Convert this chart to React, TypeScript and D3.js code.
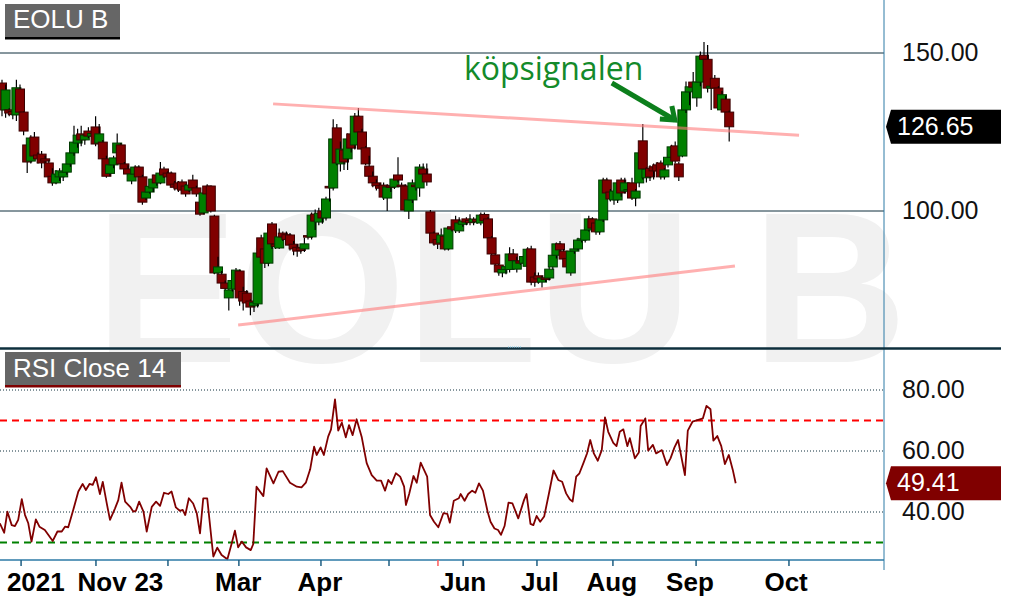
import * as d3 from "d3";

const W = 1021;
const H = 603;
const AXIS_X = 884;
const FONT = "'Liberation Sans', Arial, sans-serif";

// [open, high, low, close] per trading day
const candles: [number, number, number, number][] = [
  [140.5, 141.5, 130, 132], [132, 140, 129.5, 138.3], [132, 132.5, 130, 131], [131.5, 133, 129, 130.5],
  [130.4, 141.5, 128.5, 139], [138.6, 140, 130, 131.3], [131.3, 131.5, 124, 125.3], [120.9, 122, 112, 115.5],
  [115.8, 124, 115, 123.1], [123.4, 125, 116.5, 117.4], [117.7, 118.5, 115, 116.5], [118, 119, 113.5, 115.2],
  [116.5, 117.5, 114, 115.8], [115.2, 116, 110, 110.8], [111, 113.5, 108, 108.9], [108.9, 113, 108.5, 111.7],
  [110.8, 113.5, 109.5, 112.7], [110.8, 114, 109.5, 112.3], [112.3, 115.5, 111.5, 114.9], [114.9, 119, 114, 118.4],
  [118.4, 127, 117.5, 121.8], [121.5, 126, 120, 124], [124.4, 127, 120.5, 122.5], [122.5, 125, 121, 124],
  [125.3, 126.5, 123, 123.7], [123.7, 126, 123, 124.5], [126.6, 130, 120.5, 121.2], [121.5, 127.5, 120, 124.4],
  [121.8, 122.5, 116, 116.5], [116.5, 117.5, 110.5, 111], [111.9, 115.5, 111, 114.6], [114.6, 117.5, 113.5, 116.8],
  [118.4, 124.5, 117.5, 121.5], [120.9, 121.5, 114, 114.9], [114.9, 115.5, 112.5, 113.3], [113.3, 114.5, 111, 111.7],
  [109.5, 112, 108.5, 111.7], [111.7, 114.5, 111, 113.9], [113.9, 114.5, 110, 110.8], [110.8, 111.5, 102, 102.8],
  [104.1, 107, 103.5, 106], [106, 108.5, 105.5, 107.8], [107.3, 111.5, 106, 110.1], [111.4, 112, 108, 108.9],
  [108.9, 115.5, 108.5, 112], [113.3, 114, 110.5, 111.4], [112, 112.5, 110, 110.8], [112, 112.5, 107.5, 108.2],
  [108.5, 109.5, 106.5, 107.5], [108.9, 109.5, 106, 107], [109.2, 110, 105.5, 106.6], [107.9, 108.5, 104.5, 105.4],
  [106.6, 109, 106, 108.2], [109.8, 111.5, 106.5, 107.3], [107.3, 108, 104.5, 105.4], [102.8, 103.5, 98.5, 99],
  [99.4, 106.5, 99, 105.7], [107.9, 108.5, 105, 105.4], [107.9, 108, 99.5, 100], [98.4, 98.8, 80, 80.4],
  [80.4, 85.5, 79.8, 82.3], [80, 81, 76.5, 77.2], [77.2, 78, 74.5, 75.5], [72.5, 76, 68.5, 75],
  [75.3, 79, 74.5, 78], [75.3, 82, 74.5, 81.3], [81, 81.5, 70, 72.5], [74.5, 76, 68.5, 71.5],
  [74, 75, 70, 70.9], [71.5, 72, 67, 69.6], [70, 72, 68, 71], [70.6, 87.5, 69.5, 86.7],
  [91.5, 92.5, 84, 85.4], [88, 89, 82, 83.5], [83.5, 95.5, 82.5, 93], [95.9, 96.5, 88, 89.6],
  [89.5, 91, 88, 88.8], [88.3, 94.5, 88, 91.8], [93, 93.5, 90.5, 91.8], [92.5, 93.5, 90, 91],
  [92.4, 93, 87.5, 89.2], [89.5, 90.5, 86, 88], [88.5, 89.5, 85.5, 87.3], [88.3, 89.5, 86.5, 87.5],
  [88, 91.5, 87, 89.6], [92.2, 93, 91, 91.8], [91.8, 99.5, 91, 98.7], [99, 100.5, 94, 96.8],
  [96.5, 101, 95.5, 99.3], [100, 101, 96, 97.8], [97.8, 104.5, 97, 103.8], [107.8, 109.5, 103, 107.3],
  [107.3, 129, 106.5, 122.8], [126.3, 127.5, 114.5, 115.2], [114.9, 122, 112.5, 119.6], [119.3, 121, 113, 115.5],
  [116.5, 124.5, 113, 122.8], [124.4, 125.5, 118.5, 119.9], [120.9, 131, 119.5, 130], [130, 132.6, 124, 125],
  [125, 126, 118.5, 119.6], [120, 120.5, 114.5, 114.9], [114.2, 117.5, 110, 111], [111, 112.5, 107.5, 108.9],
  [108.9, 110, 106.5, 108], [108, 108.8, 106.5, 107.2], [108.2, 109, 103.5, 104.4], [104.1, 108.5, 100, 107.6],
  [108, 109, 106, 107.5], [107.6, 111, 107, 110.1], [111.4, 117, 109, 109.8], [108.2, 109, 106.5, 107.8],
  [107.9, 108.5, 100, 100.3], [100, 104.5, 97.5, 103.5], [103.5, 110, 102.5, 108.9], [108.2, 108.8, 106.5, 107.7],
  [107.3, 114.8, 104.5, 113.9], [113.3, 115, 110.5, 111.7], [111.7, 115, 108, 109.2], [99.7, 100.3, 92.5, 93],
  [93, 93.5, 89, 89.9], [91, 92.5, 88, 89.5], [89.9, 94.5, 88.5, 92.4], [92, 93, 87.5, 88],
  [88, 95, 87.5, 94.6], [95, 96, 93.5, 94.3], [97.2, 98.5, 93, 94], [93.7, 98, 93, 96.2],
  [95.8, 97.5, 95, 96.8], [97.5, 98, 95.5, 96.5], [97, 99, 95.5, 96.3], [96.5, 98, 95.5, 97.4],
  [97.4, 98.5, 96, 96.6], [96.2, 99.5, 95.5, 98.7], [98.9, 99.5, 96, 96.9], [97.5, 98, 91, 91.5],
  [91.5, 92, 85.5, 86.4], [86.1, 86.5, 82.5, 83.2], [82.9, 83.2, 79.5, 80.7], [80.4, 82.5, 79, 81.5],
  [81.5, 83, 80, 82.4], [81.5, 88.5, 80.5, 86.4], [86.4, 88, 83.5, 84.3], [81.6, 85.5, 80.5, 84.2],
  [84.2, 85.5, 83, 83.5], [83.5, 86, 82.5, 85.6], [82.5, 88.5, 81.5, 87.9], [88, 89, 76.5, 77.5],
  [79.1, 80.5, 76, 77.5], [79.5, 80.5, 77, 78.5], [77.5, 79.5, 75.8, 78.8], [78.8, 80, 77.5, 78.3],
  [78.8, 82.5, 78, 81.6], [82.3, 87, 81.5, 86], [86, 90, 85, 89.6], [89.6, 90.5, 86.5, 87.7],
  [87.3, 88, 84, 84.8], [85, 86, 80.5, 82.3], [80.4, 88, 79.5, 87.3], [87.3, 89, 86.5, 88],
  [88, 91.5, 87.5, 90.8], [90.8, 92, 90, 91.2], [90.8, 95, 90, 94], [94, 98.5, 93.5, 97.5],
  [97.5, 98, 93.8, 94.6], [96.2, 96.8, 92.5, 93.4], [93.4, 98, 92.5, 97.2], [97.2, 110.5, 96.5, 109.8],
  [109.8, 110.5, 104.5, 105.7], [106, 107, 103, 103.8], [103.5, 107, 102, 106.3], [103.5, 109.5, 102.5, 108.9],
  [109.8, 110.5, 104.5, 105.7], [106.3, 110.5, 105.5, 108.9], [106.3, 107.5, 105, 106.8], [108.9, 110.5, 103.5, 104.1],
  [104.1, 107, 101.5, 106.3], [108.9, 119.5, 107.5, 118.4], [122.2, 127.5, 110, 113.3], [110.5, 113.8, 109, 113.2],
  [113.5, 114.5, 109.5, 110.8], [114, 115, 110, 112.7], [114.6, 115.5, 111.5, 112.7], [115.2, 116, 110, 110.8],
  [110.8, 113.5, 110, 113], [114.6, 118, 113.8, 117], [117, 121, 116, 120.3], [120.6, 122, 115, 115.8],
  [114.9, 115.5, 109.5, 110.8], [117.4, 133, 117, 132], [132, 141, 131, 137.7], [137.7, 140.2, 133.5, 139.3],
  [140.8, 144, 137, 139.2], [135.8, 144.5, 133, 140.8], [140.8, 150.5, 139.5, 149], [149.3, 153.5, 146, 148],
  [148, 152.5, 137.5, 138.9], [138.9, 140.5, 132, 139.5], [142, 143, 136, 138.9], [138.9, 139.5, 132, 132.6],
  [132, 138, 131.5, 136.8], [135.4, 136.5, 130.5, 131.3], [131.3, 131.8, 122, 126.65],
];

// RSI(14) readings: bar position and value
const rsiBars = [
  -0.6, 0.6, 1.5, 2.7, 3.6, 4.5, 5.5, 6.4, 7.3, 8.2, 9.4, 10.4, 11.9, 14.1, 15.4, 16.6, 17.5, 18.4, 19.8, 21.2,
  22.4, 23.3, 24.3, 25.2, 26.1, 27.2, 28, 29.1, 30, 31.4, 32.3, 33.2, 34.2, 35.6, 36.5, 37.2, 38.1, 39.3, 40.2, 41.6,
  42.8, 43.9, 45, 46.2, 47.1, 48.3, 49.4, 50.2, 50.9, 51.9, 53.1, 54.1, 55, 55.9, 57, 58.7, 59.8, 61, 62.6, 63.8,
  64.7, 65.6, 66.6, 67.8, 69.1, 69.8, 70.7, 72.6, 73.5, 75.4, 76.8, 78, 80, 81.9, 83.2, 84.4, 85.6, 86.7, 87.4, 88.5,
  89.4, 90.6, 91.4, 92.5, 93.4, 94.4, 95.5, 96.4, 97.4, 98.5, 99.9, 101.3, 102.7, 104.1, 105.3, 106.4, 107.3, 108.2, 109.4, 110.6,
  111.7, 112.2, 113.1, 114.3, 115.2, 116.3, 118.1,
  118.9, 120, 121.2, 122.6, 123.7, 124.4, 125.5, 126.9, 127.4, 128.5, 129.5, 130.6, 131.5, 132.5, 133.6, 134.9, 135.7, 136.8, 137.8, 138.6,
  139.6, 140.7, 141.8, 143.4, 145, 145.7, 146.8, 147.6, 148.5, 149.5, 150.6, 151.9, 153.2, 154.5, 155.6, 156.7, 157.7, 158.5, 159.5, 160.4,
  161.5, 162.5, 163.4, 164.4, 165.5, 166.6, 167.5, 168.4, 169.8, 170.7, 171.6, 172.6, 173.7, 174.4, 175.8, 176.9, 177.4, 178.7, 179.5, 180.8,
  181.7, 183.3, 184.7, 185.7, 186.8, 187.8, 189.7, 190.5, 191.8, 193.4, 194.7, 195.7, 196.8, 197.6, 198.7, 199.8, 200.8, 201.9, 203, 203.8,
];
const rsiValues = [
  36.3, 33.2, 40.1, 35.7, 35.4, 37.4, 44.2, 39, 36.3, 30.3, 37.6, 35.2, 34.1, 30.5, 33.6, 33.6, 35.2, 35, 40.7, 46.7,
  49.2, 47.2, 49.2, 48.9, 51.4, 45.9, 49.9, 42.8, 37.4, 41.2, 43.9, 49.6, 43.4, 41.7, 40.1, 40.4, 43.4, 40.1, 33.6, 41.7,
  43.4, 42, 46.3, 45.9, 46.7, 41.5, 40.4, 40.7, 39, 44.5, 42.8, 39.6, 33, 44.5, 44.5, 25.4, 28.3, 25.9, 24.5, 29.7,
  33.9, 28.4, 30.3, 28.4, 27.5, 29.5, 48.3, 45.2, 54.3, 49.4, 53.2, 53.4, 49.6, 48.3, 48.1, 49.6, 54, 61.4, 58.7, 61.2,
  58.7, 64.7, 67.1, 76.9, 66.7, 69.3, 64.5, 68.5, 65.2, 70.4, 64.7, 56, 52.1, 50.3, 50.3, 47, 50.5, 49.2, 52.7, 51.6,
  48.3, 42.3, 45.9, 51.8, 49.6, 56.2, 51.6,
  39, 36.8, 35, 39.6, 39.4, 36.5, 43.7, 44.5, 45.9, 43.7, 45.9, 47, 46.3, 49.4, 47, 40.1, 36.8, 34.6, 34.1, 32.5,
  35.4, 43.1, 42.8, 37.9, 43.9, 45.9, 36.1, 35.7, 38.7, 36.8, 38.5, 45.9, 53.6, 50.5, 49.9, 46.1, 44.2, 43.4, 51.6, 52.7,
  56, 59.2, 63.6, 59.2, 56.8, 60.3, 71, 66.3, 62.7, 61.6, 66.3, 67.1, 61.6, 64.2, 57.6, 59.5, 68.2, 70.7, 60.1, 62,
  59.2, 60.3, 55.4, 57.6, 61.2, 63.6, 52.1, 66.7, 69.6, 70.2, 70.7, 74.8, 73.7, 63.4, 64.9, 61.6, 55.7, 58.7, 53.8, 49.41,
];

const priceTicks = [100, 150];
const rsiTicks = [40, 60, 80];
const rsiUpper = 70;
const rsiLower = 30;
const lastPrice = 126.65;
const lastRsi = 49.41;

// axis ticks in bar positions
const dateTicks = [5.3, 26.1, 46.1, 65.8, 88.6, 107.5, 128.1, 148.6, 169.7, 192.8, 218.6];
const markerTick = 121.1;
const dateLabels: [string, number][] = [
  ["2021", 9.4], ["Nov", 27.8], ["23", 40.8], ["Mar", 65.6], ["Apr", 88.3],
  ["Jun", 128.1], ["Jul", 149.4], ["Aug", 169.4], ["Sep", 191.1], ["Oct", 217.8],
];

// drawn trend lines and annotation, in [bar, price]
const upperTrend: [number, number][] = [[75.3, 133.9], [221.4, 124.0]];
const lowerTrend: [number, number][] = [[65.6, 63.9], [203.6, 82.6]];
const arrowFrom: [number, number] = [169.4, 140.5];
const arrowTo: [number, number] = [186.9, 128.8];
const signalText: [number, number] = [128.3, 141.4];

export default function App() {
  const x = d3.scaleLinear().domain([0, 100]).range([2, 362]);
  const yP = d3.scaleLinear().domain([100, 150]).range([211, 53]);
  const yR = d3.scaleLinear().domain([40, 80]).range([512, 390]);

  const rsiPts = rsiBars.map((b, i) => [x(b), yR(rsiValues[i])] as [number, number]);
  const rsiPath = d3.line()(rsiPts) ?? "";

  const bodyW = 9;
  const tipX = x(arrowTo[0]);
  const tipY = yP(arrowTo[1]);
  const pY = yP(lastPrice);
  const rY = yR(lastRsi);

  return (
    <svg width={W} height={H} style={{ position: "absolute", left: 0, top: 0, background: "#fff" }}>
      <rect width={W} height={H} fill="#fff" />
      <text x={95} y={362} fontFamily={FONT} fontWeight="bold" fontSize={215} fill="#f1f1f1">
        EOLU B
      </text>

      {priceTicks.map((t) => (
        <line key={t} x1={0} x2={AXIS_X} y1={yP(t)} y2={yP(t)} stroke="#0e2f3d" strokeWidth={1} />
      ))}
      {rsiTicks.map((t) => (
        <line key={t} x1={0} x2={AXIS_X} y1={yR(t)} y2={yR(t)} stroke="#0e2f3d" strokeWidth={1} strokeDasharray="1,2" />
      ))}
      <line x1={0} x2={AXIS_X} y1={yR(rsiUpper)} y2={yR(rsiUpper)} stroke="#ff0000" strokeWidth={2} strokeDasharray="7,5" />
      <line x1={0} x2={AXIS_X} y1={yR(rsiLower)} y2={yR(rsiLower)} stroke="#008000" strokeWidth={2} strokeDasharray="7,5" />

      {candles.map(([o, h, l, c], i) => {
        const up = c >= o;
        const cx = x(i);
        const top = yP(Math.max(o, c));
        const bot = yP(Math.min(o, c));
        return (
          <g key={i}>
            <line x1={cx} x2={cx} y1={yP(h)} y2={yP(l)} stroke="#000" strokeWidth={1.2} />
            <rect
              x={cx - bodyW / 2}
              y={top}
              width={bodyW}
              height={Math.max(bot - top, 1.5)}
              fill={up ? "#008000" : "#800000"}
              stroke={up ? "#013a01" : "#3a0000"}
              strokeWidth={1}
            />
          </g>
        );
      })}

      {[upperTrend, lowerTrend].map((seg, i) => (
        <line
          key={i}
          x1={x(seg[0][0])}
          y1={yP(seg[0][1])}
          x2={x(seg[1][0])}
          y2={yP(seg[1][1])}
          stroke="#ff7b7b"
          strokeOpacity={0.6}
          strokeWidth={3}
        />
      ))}

      <text x={x(signalText[0])} y={yP(signalText[1])} fontFamily="'Open Sans', sans-serif" fontSize={32} fill="#138a2a">
        köpsignalen
      </text>
      <line x1={x(arrowFrom[0])} y1={yP(arrowFrom[1])} x2={tipX} y2={tipY} stroke="#0c7f1c" strokeWidth={5} />
      <polyline
        points={`${tipX - 3},${tipY - 14} ${tipX},${tipY} ${tipX - 15},${tipY - 1}`}
        fill="none"
        stroke="#0c7f1c"
        strokeWidth={5}
        strokeLinejoin="miter"
      />

      <path d={rsiPath} fill="none" stroke="#800000" strokeWidth={1.8} strokeLinejoin="round" />

      {/* panel frame */}
      <line x1={AXIS_X} x2={AXIS_X} y1={0} y2={570} stroke="#2c7aa6" strokeWidth={1} />
      <line x1={0} x2={1001} y1={348.5} y2={348.5} stroke="#0e2f3d" strokeWidth={2.5} />
      <line x1={508} x2={522} y1={347} y2={347} stroke="#7cc6e6" strokeWidth={1} strokeDasharray="1,1" />
      <line x1={0} x2={AXIS_X} y1={560} y2={560} stroke="#2c7aa6" strokeWidth={1.5} />
      {dateTicks.map((t) => (
        <line key={t} x1={x(t)} x2={x(t)} y1={560} y2={566} stroke="#1e5e82" strokeWidth={1.5} />
      ))}
      <line x1={x(markerTick)} x2={x(markerTick)} y1={560} y2={566} stroke="#ff5a5a" strokeWidth={1.5} />
      {dateLabels.map(([s, t]) => (
        <text key={s} x={x(t)} y={591} textAnchor="middle" fontFamily={FONT} fontWeight="bold" fontSize={26} fill="#000">
          {s}
        </text>
      ))}

      {priceTicks.map((t) => (
        <text key={t} x={902} y={yP(t) + 8} fontFamily={FONT} fontSize={25} fill="#111">
          {d3.format(".2f")(t)}
        </text>
      ))}
      {rsiTicks.map((t) => (
        <text key={t} x={902} y={yR(t) + 8} fontFamily={FONT} fontSize={25} fill="#111">
          {d3.format(".2f")(t)}
        </text>
      ))}

      <polygon points={`886,${pY} 891,${pY - 17} 1001,${pY - 17} 1001,${pY + 17} 891,${pY + 17}`} fill="#000" />
      <text x={897} y={pY + 8} fontFamily={FONT} fontSize={25} fill="#fff">
        {d3.format(".2f")(lastPrice)}
      </text>
      <polygon points={`886,${rY} 891,${rY - 17} 1001,${rY - 17} 1001,${rY + 17} 891,${rY + 17}`} fill="#800000" />
      <text x={897} y={rY + 8} fontFamily={FONT} fontSize={25} fill="#fff">
        {d3.format(".2f")(lastRsi)}
      </text>

      {/* panel titles */}
      <rect x={5} y={4} width={115} height={34} fill="#666" />
      <rect x={5} y={37} width={115} height={2.5} fill="#000" />
      <text x={13} y={28} fontFamily={FONT} fontSize={26} fill="#fff">
        EOLU B
      </text>
      <rect x={5} y={352} width={176} height={34} fill="#666" />
      <rect x={5} y={385} width={176} height={2.5} fill="#800000" />
      <text x={13} y={377} fontFamily={FONT} fontSize={26} fill="#fff">
        RSI Close 14
      </text>
    </svg>
  );
}
